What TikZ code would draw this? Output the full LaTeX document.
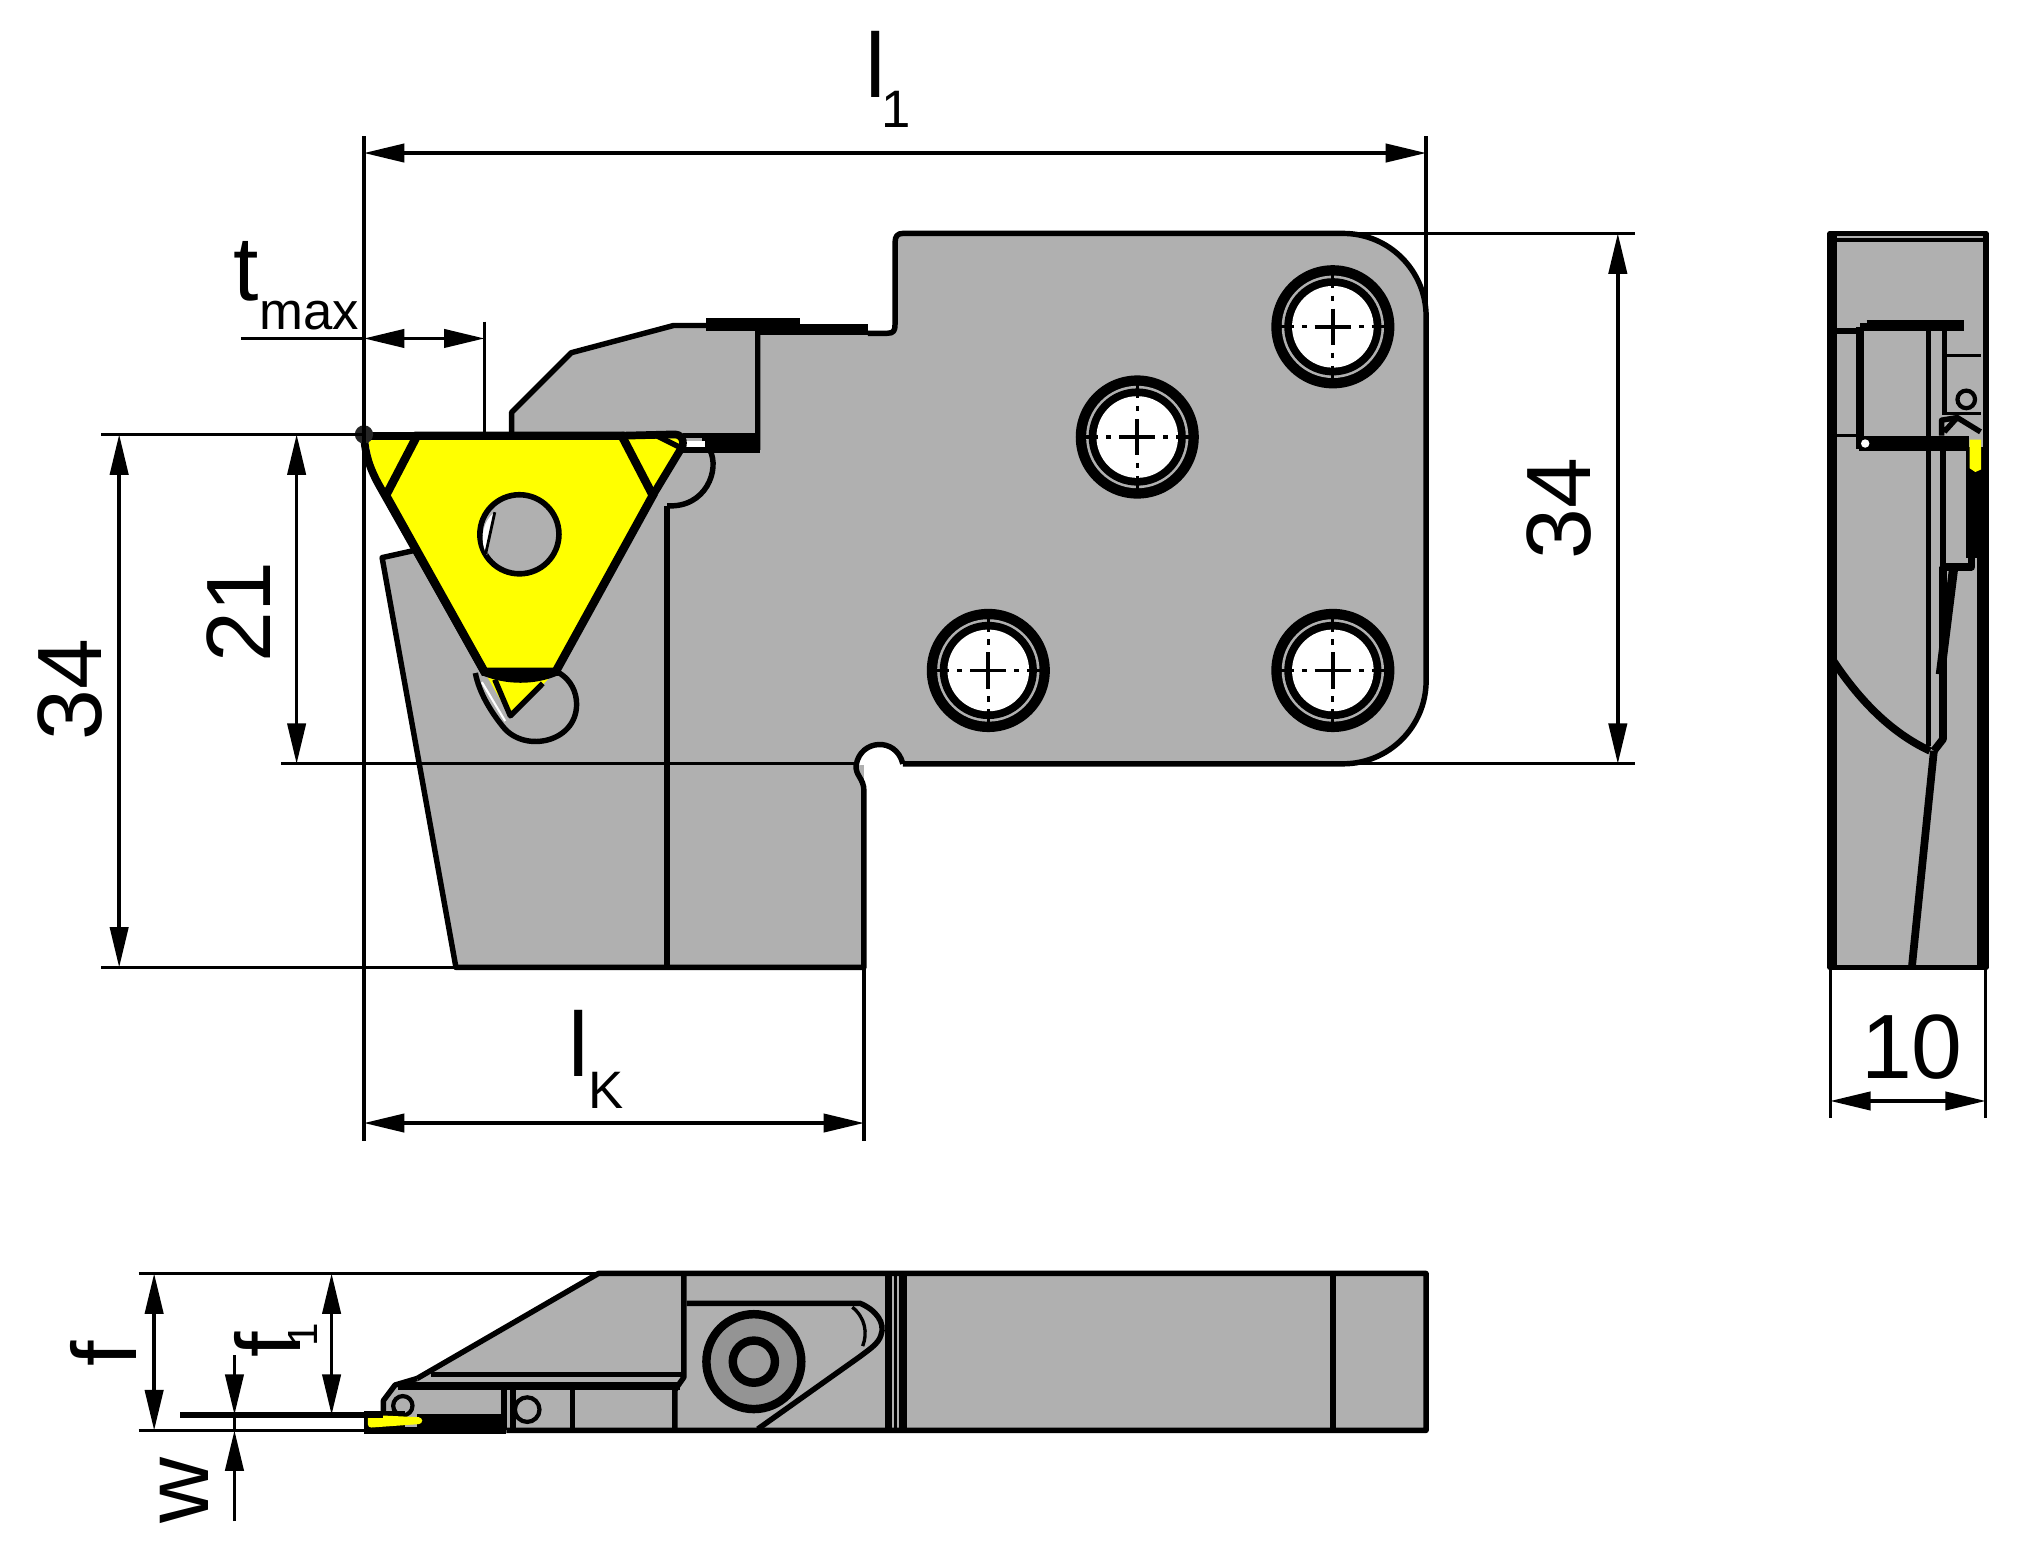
\documentclass[tikz,border=0pt]{standalone}
\usepackage{fontspec}
\setmainfont{Liberation Sans}
\usetikzlibrary{arrows.meta}
\definecolor{bodygray}{HTML}{B0B0B0}
\definecolor{inserty}{HTML}{FFFF00}
\tikzstyle{body}=[draw, fill=bodygray, line width=1.6pt, line join=round]
\tikzstyle{edge}=[line width=1.55pt, line join=round]
\tikzstyle{thick edge}=[line width=2.2pt, line join=round]
\tikzstyle{ext}=[line width=0.95pt]
\tikzstyle{dim}=[line width=0.95pt, <->, >={Triangle[length=11.5pt, width=5.2pt]}]
\tikzstyle{dimend}=[line width=0.95pt, -{Triangle[length=11.5pt, width=5.2pt]}]
\tikzstyle{big}=[inner sep=0pt, font=\fontsize{26pt}{26pt}\selectfont]
\tikzstyle{small}=[inner sep=0pt, font=\fontsize{15pt}{15pt}\selectfont]
\tikzstyle{tiny}=[inner sep=0pt, font=\fontsize{12pt}{12pt}\selectfont]
\begin{document}
\begin{tikzpicture}[x=0.012953cm, y=-0.012966cm]
    \useasboundingbox (0, 0) rectangle (1568, 1202.4);
    % main view
    \fill[bodygray] (352, 746) -- (295, 430) -- (322, 424) -- (400, 400) -- (395, 335) -- (395, 318) -- (441, 272) -- (520, 251) -- (585, 251) -- (670, 255) -- (685, 257) .. controls (690, 257) and (691, 255) .. (691, 250) -- (691, 187) .. controls (691, 182) and (693, 180) .. (697, 180) -- (1037, 180) .. controls (1072.3, 180) and (1101, 208.7) .. (1101, 244) -- (1101, 525) .. controls (1101, 560.3) and (1072.3, 589) .. (1037, 589) -- (667, 589) -- (667, 746) -- cycle;
    \draw[edge] (670, 257) -- (685, 257) .. controls (690, 257) and (691, 255) .. (691, 250) -- (691, 187) .. controls (691, 182) and (693, 180) .. (697, 180) -- (1037, 180) .. controls (1072.3, 180) and (1101, 208.7) .. (1101, 244) -- (1101, 525) .. controls (1101, 560.3) and (1072.3, 589) .. (1037, 589) -- (697, 589);
    \fill[white] (697, 589) .. controls (692, 568) and (664, 570) .. (661, 590) -- cycle;
    \draw[edge] (697, 589) .. controls (692, 568) and (664, 570) .. (661, 590) .. controls (660, 598) and (667, 600) .. (667, 610) -- (667, 746) -- (352, 746) -- (295, 430) -- (322, 424);
    \draw[edge] (395, 335) -- (395, 318) -- (441, 272) -- (520, 251) -- (585, 251) -- (585, 347);
    \fill (542, 335) rectangle (587, 349);
    \fill (545, 245) rectangle (618, 255);
    \fill (585, 250) rectangle (670, 258);
    \fill[white] (527, 340) rectangle (544, 345);
    \draw[edge] (527, 336) -- (585, 336) (525, 347) -- (548, 347);
    % pockets round the insert tips
    \draw[edge] (548, 347) .. controls (556, 362) and (545, 392) .. (515, 390);
    \draw[edge] (515, 390) -- (515, 746);
    \draw[edge] (367, 519) .. controls (370, 535) and (380, 550) .. (388, 560) .. controls (405, 582) and (448, 572) .. (445, 540) .. controls (444, 530) and (438, 522) .. (430, 518);
    % insert
    \node[inner sep=0pt] (tip) at (281, 335) {};
    \fill[inserty] (322, 336) -- (480, 336) -- (504, 382) -- (429, 518) -- (374, 518) -- (298, 382) -- cycle;
    \fill[inserty] (284, 338) -- (322, 338) -- (298, 382) -- (288, 362) -- cycle;
    \fill[inserty] (480, 338) -- (526, 338) -- (526, 345) -- (504, 382) -- cycle;
    \fill[inserty] (374, 518) -- (429, 518) -- (394, 553) -- cycle;
    \draw[thick edge] (tip) .. controls (282, 350) and (285, 360) .. (292, 373) -- (374, 518);
    \draw[thick edge] (281, 336) -- (322, 336);
    \draw[line width=2.4pt] (322, 336) -- (480, 336) -- (504, 382) -- (429, 518) -- (374, 518) -- (298, 382) -- cycle;
    \draw[thick edge] (480, 336) -- (520, 335) .. controls (526, 335) and (528, 338) .. (527, 344) -- (504, 382);
    \draw[edge] (507, 336) -- (527, 346);
    \draw[line width=2.4pt] (374, 518) .. controls (392, 525) and (412, 525) .. (429, 518);
    \draw[edge] (382, 524) -- (394, 552) -- (419, 527);
    \draw[white, line width=0.6pt] (372, 526) -- (390, 556);
    \node[circle, fill=bodygray, draw, line width=1.6pt, minimum size=22.5pt, inner sep=0pt] (hole) at (401, 412) {};
    \fill[white] (382, 395) .. controls (372, 402) and (370, 418) .. (376, 428) -- cycle;
    \draw[line width=0.8pt] (382, 395) -- (375, 427);
    \fill[black!85] (tip) circle (2.6pt);
    % bolts
    \foreach \cx/\cy in {1029/252, 878/337, 763/517, 1029/517} {
        \fill (\cx, \cy) circle (47.5);
        \fill[bodygray] (\cx, \cy) circle (39.5);
        \fill (\cx, \cy) circle (37.5);
        \fill[white] (\cx, \cy) circle (31.5);
        \draw[line width=0.9pt] (\cx-40, \cy) -- (\cx-30, \cy) (\cx-24, \cy) -- (\cx-20, \cy) (\cx+20, \cy) -- (\cx+24, \cy) (\cx+30, \cy) -- (\cx+40, \cy);
        \draw[line width=0.9pt] (\cx, \cy-40) -- (\cx, \cy-30) (\cx, \cy-24) -- (\cx, \cy-20) (\cx, \cy+20) -- (\cx, \cy+24) (\cx, \cy+30) -- (\cx, \cy+40);
        \draw[line width=1.1pt] (\cx-14, \cy) -- (\cx+14, \cy) (\cx, \cy-14) -- (\cx, \cy+14);
    }
    % side view
    \draw[body] (1413, 180) rectangle (1533, 746);
    \draw[ext] (1413, 185) -- (1533, 185);
    \draw[thick edge] (1415, 180) -- (1415, 746);
    \draw[line width=3pt] (1530, 430) -- (1530, 746);
    \draw[line width=1.7pt] (1414, 255) -- (1436, 255);
    \draw[ext] (1414, 336) -- (1436, 336);
    \draw[line width=2.6pt] (1441, 250) -- (1516, 250);
    \draw[thick edge] (1436, 252) -- (1516, 252) (1436, 252) -- (1436, 346);
    \fill (1435, 336) rectangle (1520, 348);
    \fill[white] (1440, 342) circle (1.2pt);
    \draw[edge] (1489, 252) -- (1489, 575) (1501, 252) -- (1501, 320);
    \draw[ext] (1503, 274) -- (1529, 274) (1503, 319) -- (1529, 319);
    \node[circle, draw, line width=1.2pt, minimum size=5pt, inner sep=0pt] (screw) at (1518, 308) {};
    \draw[edge] (1499, 336) -- (1499, 324) -- (1511, 322) -- (1529, 333) (1501, 333) -- (1511, 322);
    \fill (1518, 345) rectangle (1531, 430);
    \fill[inserty] (1520.5, 339) -- (1529.5, 339) -- (1529.5, 362) -- (1525, 364) -- (1520.5, 361) -- cycle;
    \draw[edge] (1500, 348) -- (1500, 437);
    \draw[thick edge] (1500, 437) -- (1522, 437) -- (1522, 428);
    \draw[line width=2.6pt] (1508, 440) -- (1498, 520);
    \draw[thick edge] (1500, 437) -- (1500, 570) -- (1493, 579);
    \draw[thick edge] (1493, 579) -- (1476, 746);
    \draw[thick edge] (1413, 506) .. controls (1435, 540) and (1460, 565) .. (1490, 579);
    % bottom view
    \fill[bodygray] (462, 982) -- (1101, 982) -- (1101, 1103) -- (298, 1103) -- (296, 1078) -- (305, 1067) -- (322, 1063) -- cycle;
    \draw[edge] (322, 1063) -- (462, 982) -- (1101, 982) -- (1101, 1103) -- (391, 1103);
    \draw[edge] (322, 1063) -- (305, 1068) -- (296, 1080) -- (296, 1088);
    \draw[edge] (528, 982) -- (528, 1062) -- (521, 1072) -- (521, 1103);
    \draw[edge] (333, 1060) -- (526, 1060);
    \draw[line width=2.4pt] (307, 1069) -- (525, 1069);
    \draw[edge] (530, 1005) -- (664, 1005) .. controls (676, 1010) and (684, 1020) .. (680, 1030) .. controls (678, 1036) and (672, 1040) .. (664, 1046) -- (585, 1102);
    \draw[ext] (658, 1008) .. controls (668, 1016) and (670, 1028) .. (666, 1038);
    \node[circle, draw, fill=black!42, line width=2.4pt, minimum size=27pt, inner sep=0pt] (washer) at (582, 1050) {};
    \node[circle, draw, fill=black!38, line width=2.4pt, minimum size=12pt, inner sep=0pt] (screwhead) at (582, 1050) {};
    \draw[thick edge] (686, 982) -- (686, 1103) (697, 982) -- (697, 1103);
    \draw[ext] (691.5, 982) -- (691.5, 1103);
    \draw[edge] (1029, 982) -- (1029, 1103);
    \draw[edge] (389, 1070) -- (389, 1103) (396, 1072) -- (396, 1103) (442, 1072) -- (442, 1103);
    \node[circle, draw, line width=1.2pt, minimum size=7pt, inner sep=0pt] (screwb) at (407, 1087) {};
    \node[circle, draw, line width=1.2pt, minimum size=5.5pt, inner sep=0pt] (screwc) at (311, 1084) {};
    \draw[thick edge] (391, 1103) -- (281, 1103);
    \fill (281, 1088) rectangle (313, 1104);
    \fill (322, 1090) rectangle (391, 1104);
    \fill[inserty, rounded corners=1pt] (284, 1091) -- (326, 1093) -- (326, 1098) -- (284, 1101) -- cycle;
    % dimension lines
    \coordinate (ltop) at (281, 105);
    \coordinate (lbot) at (281, 880);
    \coordinate (rtop) at (1101, 105);
    \coordinate (rbot) at (1101, 244);
    \draw[ext] (ltop) -- (lbot);
    \draw[ext] (rtop) -- (rbot);
    \draw[dim] (281, 118) -- (1101, 118);
    \coordinate (tstart) at (186, 261);
    \coordinate (tend) at (281, 261);
    \draw[ext] (tstart) -- (tend);
    \draw[ext] (374, 248) -- (374, 335);
    \draw[dim] (281, 261) -- (374, 261);
    \draw[ext] (78, 335) -- (281, 335);
    \draw[ext] (78, 746) -- (352, 746);
    \draw[dim] (92, 335) -- (92, 746);
    \draw[ext] (217, 589) -- (661, 589);
    \draw[dim] (229, 335) -- (229, 589);
    \draw[ext] (1037, 180) -- (1262, 180);
    \draw[ext] (1037, 589) -- (1262, 589);
    \draw[dim] (1249, 180) -- (1249, 589);
    \draw[ext] (667, 746) -- (667, 880);
    \draw[dim] (281, 866) -- (667, 866);
    \draw[ext] (1413, 746) -- (1413, 862);
    \draw[ext] (1533, 746) -- (1533, 862);
    \draw[dim] (1413, 849) -- (1533, 849);
    \draw[ext] (107, 982) -- (462, 982);
    \draw[ext] (107, 1103) -- (296, 1103);
    \draw[edge] (139, 1091) -- (296, 1091);
    \draw[dim] (119, 982) -- (119, 1103);
    \draw[dim] (256, 982) -- (256, 1091);
    \draw[dimend] (181, 1045) -- (181, 1091);
    \draw[dimend] (181, 1173) -- (181, 1103);
    \draw[ext] (181, 1091) -- (181, 1103);
    % labels
    \node[big, anchor=base] (lone) at (676, 75) {l};
    \node[small, anchor=base] (loneb) at (692, 98) {1};
    \node[big, anchor=base] (tmax) at (190, 232) {t};
    \node[small, anchor=base west] (tmaxb) at (200, 254) {max};
    \node[big, rotate=90] (dimA) at (54, 532) {34};
    \node[big, rotate=90] (dimB) at (184, 472) {21};
    \node[big, rotate=90] (dimC) at (1204, 392) {34};
    \node[big, anchor=base] (lk) at (447, 830) {l};
    \node[small, anchor=base] (lkb) at (468, 855) {K};
    \node[big, anchor=base] (dimD) at (1476, 832) {10};
    \node[big, rotate=90, anchor=base] (flabel) at (105, 1044) {f};
    \node[big, rotate=90, anchor=base] (fone) at (232, 1037) {f};
    \node[tiny, rotate=90, anchor=base] (foneb) at (245, 1029) {1};
    \node[big, rotate=90, anchor=base] (wlabel) at (161, 1149) {w};
\end{tikzpicture}
\end{document}
